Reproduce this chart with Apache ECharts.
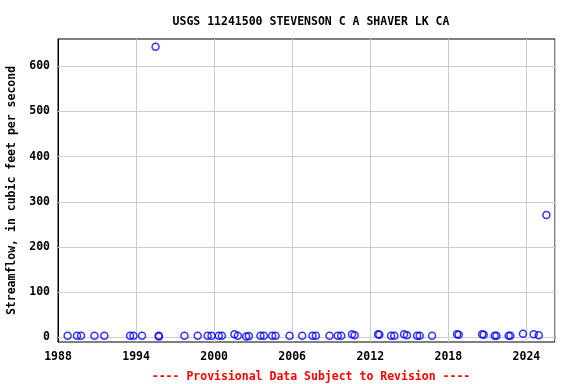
<!DOCTYPE html>
<html>
<head>
<meta charset="utf-8">
<script src="https://cdn.jsdelivr.net/npm/echarts@6/dist/echarts.min.js"></script>
<style>
  html, body { margin: 0; padding: 0; background: #fff; }
  #chart { width: 576px; height: 384px; }
</style>
</head>
<body>
<div id="chart"></div>
<script>
// sample dates (decimal years) and discharge
var years = [
    1988.74, 1989.46, 1989.77, 1990.8, 1991.56, 1993.54, 1993.8, 1994.46,
    1995.5, 1995.74, 1995.76, 1997.72, 1998.74, 1999.5, 1999.8, 2000.36,
    2000.6, 2001.56, 2001.82, 2002.46, 2002.67, 2003.56, 2003.82, 2004.46,
    2004.72, 2005.8, 2006.77, 2007.56, 2007.82, 2008.87, 2009.5, 2009.77,
    2010.6, 2010.8, 2012.6, 2012.7, 2013.6, 2013.85, 2014.6, 2014.82,
    2015.6, 2015.8, 2016.75, 2018.67, 2018.8, 2020.6, 2020.72, 2021.56,
    2021.7, 2022.64, 2022.77, 2023.74, 2024.56, 2024.95, 2025.54
];
var flows = [
    4, 4, 4, 4, 4, 4, 4, 4,
    643, 4, 2, 4, 4, 4, 4, 4,
    4, 7, 4, 2, 3, 4, 4, 4,
    4, 4, 4, 4, 4, 4, 4, 4,
    7, 5, 7, 6, 4, 4, 7, 5,
    4, 4, 4, 7, 6, 7, 6, 4,
    4, 4, 4, 8, 7, 5, 271
];
var yTicks = [0, 100, 200, 300, 400, 500, 600];
var titleText = 'USGS 11241500 STEVENSON C A SHAVER LK CA';
var yName = 'Streamflow, in cubic feet per second';
var footText = '---- Provisional Data Subject to Revision ----';

var points = [];
for (var i = 0; i < years.length; i++) {
    points.push([years[i], flows[i]]);
}

var font = 'DejaVu Sans Mono';
var fs = 11.5;

// horizontal grid lines at the labelled values
var gridLines = [];
for (var j = 0; j < yTicks.length; j++) {
    gridLines.push({ yAxis: yTicks[j] });
}

var chart = echarts.init(document.getElementById('chart'));
chart.setOption({
    animation: false,
    backgroundColor: '#fff',
    title: [{
        text: titleText,
        left: 306,
        top: 11,
        textAlign: 'center',
        textStyle: { fontFamily: font, fontSize: fs, fontWeight: 'bold', color: '#000' }
    }, {
        text: footText,
        left: 306,
        top: 366,
        textAlign: 'center',
        textStyle: { fontFamily: font, fontSize: fs, fontWeight: 'bold', color: '#ff0000' }
    }],
    grid: {
        left: 58,
        right: 21,
        top: 39,
        bottom: 42,
        outerBoundsMode: 'none',
        containLabel: false,
        show: true,
        borderColor: '#000',
        borderWidth: 1,
        backgroundColor: '#fff'
    },
    xAxis: {
        type: 'value',
        min: 1988,
        max: 2026.2,
        interval: 6,
        axisLine: { show: true, lineStyle: { color: '#000' } },
        axisTick: { show: false },
        axisLabel: {
            fontFamily: font, fontSize: fs, fontWeight: 'bold', color: '#000',
            margin: 9, showMaxLabel: false,
            formatter: function (v) { return String(v); }
        },
        splitLine: { show: true, lineStyle: { color: '#cccccc', width: 1 } }
    },
    yAxis: {
        type: 'value',
        min: -10,
        max: 660,
        interval: 10,
        name: yName,
        nameLocation: 'middle',
        nameGap: 39,
        nameTextStyle: { fontFamily: font, fontSize: fs, fontWeight: 'bold', color: '#000' },
        axisLine: { show: true, lineStyle: { color: '#000' } },
        axisTick: { show: false },
        axisLabel: {
            fontFamily: font, fontSize: fs, fontWeight: 'bold', color: '#000',
            margin: 8,
            formatter: function (v) {
                var r = Math.round(v);
                return (r >= 0 && r % 100 === 0) ? String(r) : '';
            }
        },
        splitLine: { show: false }
    },
    series: [{
        type: 'scatter',
        data: points,
        symbol: 'circle',
        symbolSize: 7,
        itemStyle: { color: 'rgba(0,0,0,0)', borderColor: '#0000ff', borderWidth: 1.5 },
        markLine: {
            silent: true,
            symbol: 'none',
            label: { show: false },
            lineStyle: { color: '#cccccc', width: 1, type: 'solid' },
            data: gridLines,
            z: 1
        },
        z: 3
    }]
});
</script>
</body>
</html>
